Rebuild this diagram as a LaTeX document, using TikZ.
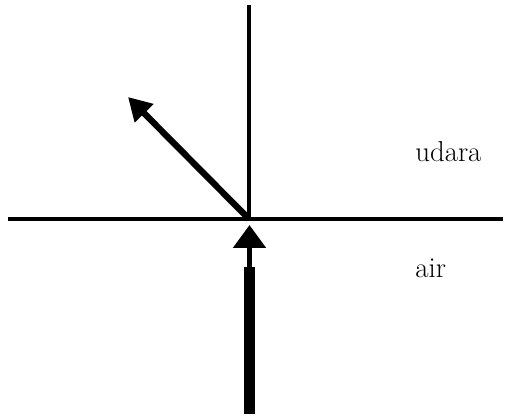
\documentclass[tikz,border=0pt]{standalone}
\usetikzlibrary{arrows.meta}
\begin{document}
\begin{tikzpicture}[axisline/.style={line width=2.6pt},
                    medium/.style={font=\fontsize{16.4}{20}\selectfont,anchor=base west,inner sep=0pt}]
      \useasboundingbox (0,0) rectangle (10.1,8.32);

      \coordinate (O) at (4.98,3.94);
      \coordinate (top) at (4.98,8.22);
      \coordinate (left) at (0.16,3.94);
      \coordinate (right) at (10.06,3.94);

      \draw[axisline] (O) -- (top);
      \draw[axisline] (left) -- (right);

      % reflected ray
      \coordinate (refl) at (2.56,6.38);
      \draw[line width=3.6pt,-{Triangle[length=0.46cm,width=0.5cm]}] (O) -- (refl);

      % incoming ray from below
      \coordinate (bot) at (4.99,0.04);
      \coordinate (neck) at (4.99,2.98);
      \coordinate (tip) at (4.99,3.82);
      \draw[line width=6.8pt] (bot) -- (neck);
      \draw[line width=3pt,-{Triangle[length=0.46cm,width=0.64cm]}] (neck) -- (tip);

      \node[medium] (udara) at (8.3,5.08) {udara};
      \node[medium] (air) at (8.3,2.76) {air};

\end{tikzpicture}
\end{document}
